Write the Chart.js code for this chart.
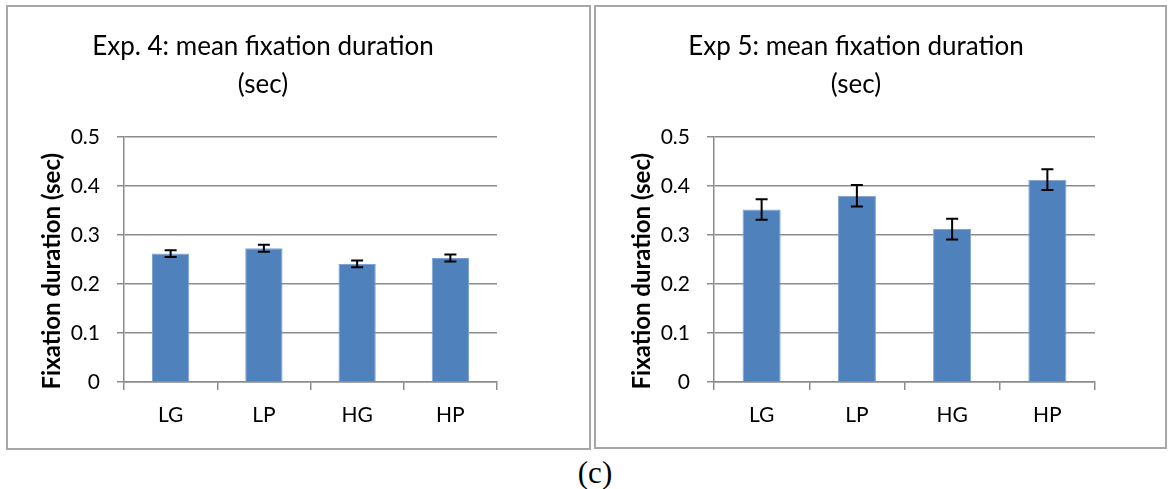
<!DOCTYPE html>
<html>
<head>
<meta charset="utf-8">
<script src="https://cdn.jsdelivr.net/npm/chart.js@4.4.1/dist/chart.umd.min.js"></script>
<style>
    body { margin: 0; background: #fff; width: 1169px; height: 489px; position: relative; overflow: hidden; }
    .frame { position: absolute; border: 2px solid #a6a6a6; box-sizing: border-box; }
    canvas { position: absolute; }
    #caption { position: absolute; left: 0; width: 1190px; top: 455px; line-height: 35px; text-align: center;
               font-family: 'Liberation Serif', serif; font-size: 31px; color: #000; }
</style>
</head>
<body>
<div class="frame" style="left:6px;top:5px;width:585px;height:445px;"></div>
<div class="frame" style="left:594px;top:5px;width:573px;height:444px;"></div>
<canvas id="exp4-chart" width="470" height="440" style="left:29px;top:6px;"></canvas>
<canvas id="exp5-chart" width="480" height="440" style="left:617px;top:6px;"></canvas>
<div id="caption">(c)</div>

<script>
// === DỮ LIỆU ===
const categories = ['LG', 'LP', 'HG', 'HP'];
const exp4Means = [0.262, 0.273, 0.241, 0.253];
const exp4Errors = [0.007, 0.007, 0.007, 0.007];
const exp5Means = [0.352, 0.380, 0.312, 0.413];
const exp5Errors = [0.021, 0.022, 0.021, 0.021];
const yTicks = [0, 0.1, 0.2, 0.3, 0.4, 0.5];

const FONT = 'Lato';
const GRID = '#8c8c8c';

// vẽ thanh sai số (error bar) bằng scale của chart
const errorBarPlugin = {
    id: 'errorBars',
    afterDatasetsDraw(chart, args, opts) {
        const { ctx } = chart;
        const y = chart.scales.y;
        const meta = chart.getDatasetMeta(0);
        const values = chart.data.datasets[0].data;
        ctx.save();
        ctx.strokeStyle = '#000';
        ctx.lineWidth = 2;
        meta.data.forEach((bar, i) => {
            const e = opts.errors[i];
            const top = y.getPixelForValue(values[i] + e);
            const bottom = y.getPixelForValue(values[i] - e);
            const cap = 6;
            ctx.beginPath();
            ctx.moveTo(bar.x, top); ctx.lineTo(bar.x, bottom);
            ctx.moveTo(bar.x - cap, top); ctx.lineTo(bar.x + cap, top);
            ctx.moveTo(bar.x - cap, bottom); ctx.lineTo(bar.x + cap, bottom);
            ctx.stroke();
        });
        ctx.restore();
    }
};

const buildChart = (canvasId, titleLine, means, errors, yWidth, yTitlePad) => {
    const ctx = document.getElementById(canvasId).getContext('2d');
    return new Chart(ctx, {
        type: 'bar',
        data: {
            labels: categories,
            datasets: [{
                data: means,
                backgroundColor: '#4f81bd',
                borderColor: '#7fa3d1',
                borderWidth: 1,
                categoryPercentage: 1,
                barPercentage: 0.4
            }]
        },
        options: {
            responsive: false,
            animation: false,
            layout: { padding: { left: 0, right: 2, top: 0, bottom: 0 } },
            scales: {
                x: {
                    offset: true,
                    afterFit: (scale) => { scale.height = 64; },
                    grid: { offset: true, drawOnChartArea: false, drawTicks: true, tickLength: 8, color: GRID, lineWidth: 1.5 },
                    border: { display: true, color: GRID, width: 1.5 },
                    ticks: { color: '#000', padding: 13, font: { family: FONT, size: 21 } }
                },
                y: {
                    min: 0,
                    max: 0.5,
                    afterFit: (scale) => { scale.width = yWidth; },
                    afterBuildTicks: (scale) => { scale.ticks = yTicks.map(v => ({ value: v })); },
                    grid: { color: GRID, lineWidth: 1.5, drawTicks: true, tickLength: 7 },
                    border: { display: true, color: GRID, width: 1.5 },
                    ticks: {
                        color: '#000',
                        padding: 17,
                        font: { family: FONT, size: 21 },
                        callback: (value) => String(Math.round(value * 10) / 10)
                    },
                    title: {
                        display: true,
                        // khoảng trắng cuối để đẩy chữ xuống giống bản gốc
                        text: 'Fixation duration (sec)\u00a0\u00a0\u00a0\u00a0',
                        color: '#000',
                        padding: { top: yTitlePad, bottom: 0 },
                        font: { family: FONT, size: 24, weight: 'bold' }
                    }
                }
            },
            plugins: {
                legend: { display: false },
                tooltip: { enabled: false },
                title: {
                    display: true,
                    text: [titleLine, '(sec)'],
                    color: '#000',
                    padding: { top: 22, bottom: 33 },
                    font: { family: FONT, size: 26, weight: 'normal', lineHeight: '38px' }
                },
                errorBars: { errors: errors }
            }
        },
        plugins: [errorBarPlugin]
    });
};

buildChart('exp4-chart', 'Exp. 4: mean fixation duration', exp4Means, exp4Errors, 95, 9);
buildChart('exp5-chart', 'Exp 5: mean fixation duration', exp5Means, exp5Errors, 97, 11);
</script>
</body>
</html>
